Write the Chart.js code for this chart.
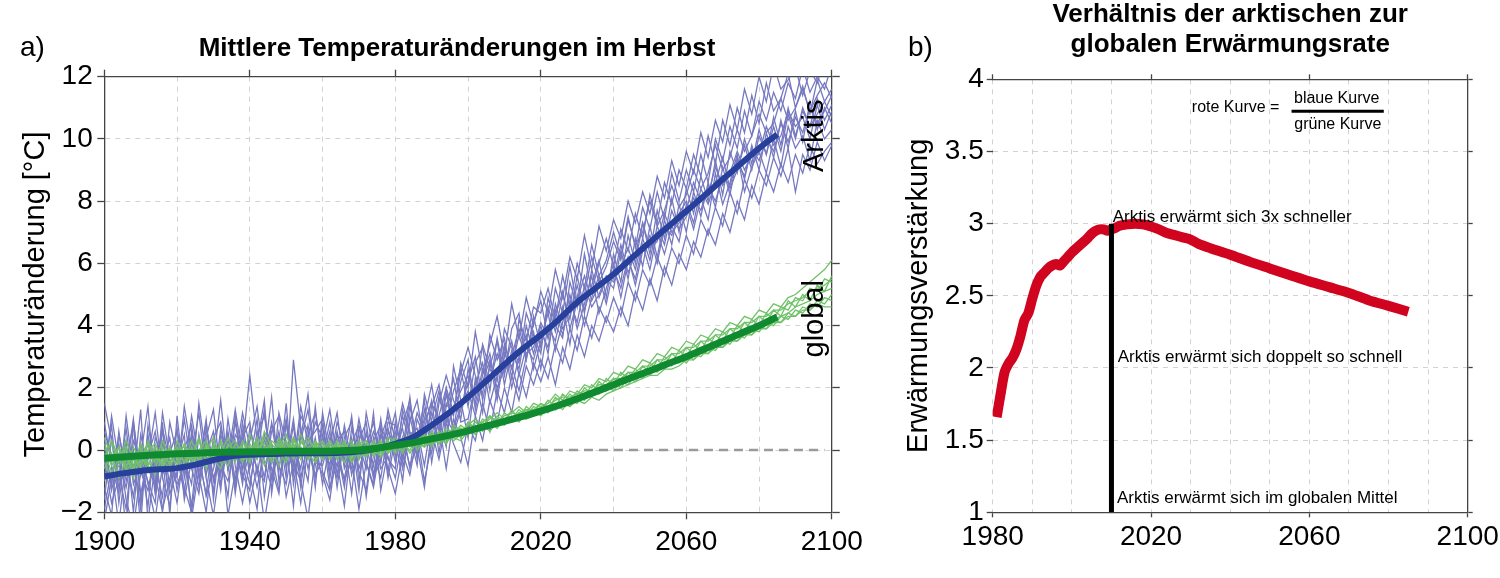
<!DOCTYPE html>
<html>
<head>
<meta charset="utf-8">
<script src="https://cdn.jsdelivr.net/npm/chart.js@4.4.1/dist/chart.umd.min.js"></script>
<style>
  html, body { margin: 0; padding: 0; background: #ffffff; }
  #wrap { position: relative; width: 1500px; height: 578px; overflow: hidden; background: #fff; }
  canvas { position: absolute; top: 0; }
  .panel-label { position: absolute; font-family: "Liberation Sans", Arial, Helvetica, sans-serif; font-size: 28px; line-height: 28px; color: #000; }
</style>
</head>
<body>
<div id="wrap">
  <canvas id="left" width="914" height="578" style="left:0px;width:914px;height:578px"></canvas>
  <canvas id="right" width="620" height="578" style="left:880px;width:620px;height:578px"></canvas>
  <div class="panel-label" style="left:20px;top:33px">a)</div>
  <div class="panel-label" style="left:908px;top:33px">b)</div>
</div>
<script>
// ---------------- DATA ----------------
// Panel a: years of the ensemble members (every 2 years) and of the smoothed means (every 5 years)
const memberYears = [];
for (let yr = 1900; yr <= 2100; yr += 2) memberYears.push(yr);
const meanYears = [];
for (let yr = 1900; yr <= 2085; yr += 5) meanYears.push(yr);

// Smoothed ensemble means (thick curves)
const arktisMean = [-0.85,-0.75,-0.67,-0.62,-0.58,-0.47,-0.32,-0.2,-0.15,-0.13,
  -0.11,-0.1,-0.1,-0.09,-0.05,0.05,0.2,0.42,0.8,1.22,
  1.7,2.22,2.75,3.25,3.7,4.2,4.75,5.2,5.65,6.17,
  6.68,7.18,7.68,8.18,8.7,9.2,9.7,10.15];
const globalMean = [-0.26,-0.22,-0.18,-0.15,-0.12,-0.1,-0.08,-0.06,-0.05,-0.05,
  -0.04,-0.04,-0.04,-0.02,0.0,0.06,0.15,0.24,0.36,0.48,
  0.62,0.77,0.92,1.08,1.25,1.44,1.65,1.87,2.1,2.33,
  2.55,2.78,3.0,3.25,3.5,3.75,4.0,4.28];

// Arctic ensemble members (thin purple lines)
const arktis01 = [1.5,0.3,-1.2,-0.4,0.8,-1.6,-0.2,0.6,-0.9,-1.8, 0.2,-0.7,1.1,-0.3,-1.4,0.4,0.9,-0.6,0.3,-1.1, 0.7,-0.2,1.3,-0.9,0.1,0.8,-0.5,1.4,0.2,-0.8, -0.3,0.6,-1.2,0.4,0.9,-0.6,0.2,-0.9,0.7,0.3, 1.2,-0.4,0.9,1.6,0.2,1.4,2.1,0.8,1.9,2.6, 1.4,2.8,3.3,1.9,3.6,2.4,3.9,4.4,2.9,4.1, 4.8,3.6,5.2,4.4,5.9,4.6,6.3,5.1,6.0,6.8, 5.9,7.1,6.4,7.6,6.8,8.2,7.3,8.6,7.9,9.0, 8.4,9.5,8.8,10.1,9.2,10.6,9.8,11.0,10.2,11.4, 10.5,11.8,10.9,11.3,12.1,11.0,11.7,10.8,11.9,11.2, 11.6];
const arktis02 = [-1.9,-0.6,-2.4,-0.3,-1.5,0.2,-1.1,-2.2,-0.5,0.4, -1.3,-0.2,-1.8,0.5,-0.9,-2.1,-0.4,0.3,-1.2,0.6, -0.8,-1.9,0.4,-0.6,-1.4,0.9,-0.3,-1.7,0.1,-0.9, 0.5,-1.2,-0.4,-1.8,0.3,-0.7,-1.3,0.4,-0.6,-0.2, -0.9,0.4,-0.5,0.1,-1.2,0.6,-0.3,0.9,0.2,-0.4, 0.8,0.3,1.5,0.6,1.9,1.2,2.4,1.6,2.7,2.1, 2.9,2.3,3.4,2.8,3.9,3.2,4.3,3.6,4.6,4.1, 4.9,4.3,5.4,4.8,5.8,5.3,6.2,5.6,6.5,6.0, 6.9,6.3,7.4,6.9,7.8,7.2,8.3,7.6,8.7,8.1, 9.0,8.5,9.4,8.8,9.7,8.3,9.5,9.0,9.9,9.3, 9.8];
const arktis03 = [0.4,-1.3,-0.2,-2.6,0.9,-0.8,0.3,-1.4,1.2,-0.3, -0.9,1.4,-0.1,-1.2,0.7,-0.4,1.6,-0.7,0.5,0.1, 2.4,0.3,-0.9,0.6,1.1,-0.6,0.8,-1.2,0.5,1.2, -0.2,0.9,-0.8,0.2,-1.4,0.7,0.1,0.9,-0.4,1.3, 0.3,1.5,0.6,-0.2,1.3,0.4,1.7,1.0,0.6,2.2, 2.9,1.3,2.4,3.1,1.8,3.4,2.6,3.7,2.9,4.3, 3.3,4.6,3.8,5.0,4.2,5.6,4.5,5.3,6.1,4.9, 6.3,5.4,6.9,6.0,7.3,6.3,7.7,6.8,8.1,7.0, 8.4,7.6,8.8,8.0,9.3,8.2,9.6,8.9,10.0,9.2, 10.3,9.5,10.7,9.8,11.0,10.1,10.9,10.4,11.3,10.6, 11.1];
const arktis04 = [-0.6,0.8,-1.7,0.1,-0.9,1.3,-2.3,-0.4,0.6,-1.2, 0.7,-1.6,-0.3,1.2,-0.8,0.2,-1.3,1.0,-0.5,-1.7, -0.4,1.0,-1.5,0.2,-0.7,1.5,-1.1,0.4,1.8,-0.5, 0.8,-0.9,0.5,-0.3,1.1,-1.0,0.6,-0.5,1.0,-0.7, 0.9,-0.2,1.4,0.3,1.6,-0.4,1.1,2.0,0.5,1.3, 2.2,3.0,1.6,2.7,3.5,2.1,3.2,2.6,4.0,3.1, 4.0,3.1,4.7,3.9,4.3,5.3,4.4,5.8,4.9,5.5, 5.2,6.4,5.5,6.8,5.9,7.2,6.2,7.4,6.6,7.9, 7.0,8.3,7.5,8.6,7.8,9.1,8.2,9.4,8.7,9.8, 9.0,10.2,9.4,10.6,9.7,10.9,9.9,11.2,10.3,11.0, 10.5];
const arktis05 = [-1.2,-2.1,0.6,-1.0,-0.1,-1.9,0.5,-0.8,-2.0,0.1, -0.4,0.5,-2.2,-0.6,0.9,-1.0,-0.2,-1.5,1.1,-0.8, -1.3,0.6,-0.2,1.7,-1.0,0.2,-1.8,0.7,-0.6,0.4, -1.1,0.2,1.2,-0.6,-0.1,0.5,-1.5,0.3,0.8,-0.9, 0.4,-1.0,1.1,0.0,0.7,1.6,-0.1,1.4,2.3,0.9, 1.0,2.1,2.8,1.5,2.4,3.3,2.0,3.0,3.7,2.6, 3.5,4.4,3.2,4.1,5.0,3.9,4.7,5.6,4.4,5.2, 6.0,4.9,6.1,5.5,6.6,5.8,7.0,6.3,7.2,6.7, 7.9,7.1,8.1,7.4,8.9,7.9,8.6,9.5,8.3,9.1, 9.6,8.9,10.0,9.1,10.4,9.7,10.1,9.3,10.6,10.0, 10.3];
const arktis06 = [0.9,-0.5,-1.4,1.1,-0.7,-0.2,1.4,-1.3,0.2,-0.6, -1.7,0.0,0.8,-0.9,0.4,1.3,-0.8,0.6,-1.0,0.9, -0.6,0.5,1.1,-0.4,0.6,-0.9,2.9,0.7,-0.3,0.9, 0.4,-0.5,0.9,0.1,-0.6,1.0,-0.2,0.6,0.0,0.7, -0.4,0.8,1.6,0.2,1.0,2.1,0.6,1.5,1.1,2.8, 2.0,3.8,2.5,3.4,4.3,3.0,4.7,3.6,4.9,4.0, 5.1,4.4,5.8,4.9,6.2,5.5,6.9,5.8,7.2,6.4, 7.4,6.8,8.0,7.3,8.3,7.6,8.8,8.1,9.3,8.5, 9.6,8.9,10.2,9.4,10.6,9.9,11.1,10.3,11.6,10.8, 12.0,11.2,12.4,11.6,11.9,12.3,11.4,12.2,11.8,12.5, 12.1];
const arktis07 = [-2.3,-0.9,0.2,-1.6,-2.5,-0.7,-1.3,0.0,-1.9,-0.9, 0.1,-1.2,-2.0,-0.1,-1.5,-0.6,0.3,-2.1,-0.7,-0.3, -1.7,-0.5,-2.3,-0.8,0.3,-1.5,-0.4,-1.0,-2.2,-0.2, -0.8,-1.6,0.1,-1.0,-0.3,-1.9,-0.4,-1.2,0.2,-0.6, -1.4,-0.1,-0.8,0.5,-1.0,0.2,0.9,-0.6,1.0,0.4, -0.5,1.1,0.3,1.6,0.9,2.0,1.2,2.5,1.7,2.8, 2.2,3.0,2.1,3.3,2.6,3.7,3.0,4.0,3.5,4.3, 3.8,4.6,4.0,5.1,4.5,5.5,4.8,5.9,5.3,6.3, 5.8,6.7,6.2,7.1,6.6,7.6,7.0,8.0,7.4,8.5, 7.9,8.9,8.3,9.2,8.6,9.5,8.9,9.8,9.2,9.6, 9.9];
const arktis08 = [0.1,-1.1,0.5,-0.6,1.0,-1.4,-0.3,1.2,-0.8,-0.1, 0.6,-0.3,-1.1,1.5,-0.2,-1.3,0.7,-0.4,0.9,-0.6, 0.3,1.4,-0.4,-1.2,1.2,0.2,-0.7,1.1,0.6,-1.2, 1.2,-0.2,-0.9,0.8,-0.4,0.3,0.9,-0.8,0.4,1.1, -0.2,1.1,0.2,1.2,0.6,-0.1,1.5,2.4,1.6,1.0, 2.6,1.7,3.4,2.6,2.2,3.9,3.3,2.8,4.4,3.7, 3.1,4.9,4.0,3.6,5.4,4.6,5.0,6.2,5.4,5.9, 6.7,6.1,7.4,6.6,7.0,8.0,7.2,7.7,8.5,7.8, 8.2,9.0,8.4,8.9,9.8,9.0,9.4,10.3,9.6,10.1, 10.8,10.2,10.5,11.3,10.6,11.0,11.6,10.9,11.4,11.8, 11.3];
const arktis09 = [-0.3,-1.7,-0.9,0.7,-1.1,-0.4,-1.8,0.4,-0.2,-1.4, -0.7,1.0,-0.6,-1.4,0.3,-0.9,-0.1,0.5,-1.4,0.4, 0.9,-0.8,0.5,-0.2,-1.3,0.5,0.2,-0.6,0.8,-0.4, -0.5,0.4,0.0,-1.2,0.7,-0.3,0.5,-0.2,-0.9,0.6, 0.1,0.7,-0.6,1.0,0.4,1.2,0.3,1.8,0.7,1.4, 1.9,1.1,2.2,2.9,2.0,2.6,3.5,2.4,3.3,2.9, 3.8,3.3,4.5,3.7,4.8,4.1,5.3,4.6,5.0,5.6, 5.4,5.9,6.5,5.8,6.8,6.1,7.2,6.6,7.7,7.1, 7.5,8.1,7.7,8.5,8.0,8.8,8.5,9.3,8.8,9.7, 9.3,10.0,9.6,10.5,9.9,10.7,10.2,11.0,10.5,10.9, 11.4];
const arktis10 = [-1.6,0.4,-0.8,-1.9,0.3,-0.3,-1.0,-1.7,0.7,-0.4, -1.1,-0.5,0.4,-0.8,-2.0,0.1,-0.5,-1.0,0.2,-0.9, -0.1,-1.2,0.0,0.8,-0.5,-1.1,0.4,-0.1,-1.0,1.4, -0.7,-1.3,0.3,0.6,-0.8,0.2,-0.6,1.2,-1.3,0.0, 0.6,-0.6,0.5,-0.5,1.8,0.9,0.4,2.0,1.2,2.5, 3.3,2.4,1.8,3.7,2.9,3.6,2.3,4.2,3.5,4.6, 4.4,5.2,4.2,5.6,4.6,6.0,5.2,6.6,5.6,6.1, 7.0,6.2,7.5,6.5,7.8,7.1,8.3,7.4,8.9,8.0, 9.0,8.3,9.5,8.6,10.0,9.3,10.4,9.7,10.9,10.1, 11.2,10.6,11.5,10.9,11.8,11.3,12.3,11.5,12.0,11.6, 12.4];
const arktis11 = [0.6,-0.2,-0.9,0.3,-2.0,0.5,-0.6,-1.1,0.9,-2.1, 1.1,-0.9,0.2,-0.5,1.0,-1.6,0.5,-0.3,1.3,-0.2, -1.1,0.2,1.6,-1.4,0.4,-0.4,1.0,-0.9,0.3,0.6, 1.0,-0.7,0.6,-0.5,0.4,-1.3,1.2,0.0,-0.4,0.9, 0.8,0.0,1.7,-0.3,0.9,1.5,1.0,0.1,2.7,1.6, 0.4,2.3,1.2,2.8,1.6,3.1,2.7,1.9,3.0,3.8, 2.6,4.0,3.5,4.6,3.4,5.0,4.0,4.9,5.6,4.7, 5.8,5.2,6.2,5.3,6.4,6.9,6.0,7.2,6.9,7.6, 8.0,7.3,8.4,7.9,8.6,9.4,8.4,9.0,9.8,9.0, 10.1,9.5,10.4,9.6,10.8,10.0,11.0,10.4,10.8,11.2, 10.7];
const arktis12 = [-1.0,1.1,-0.4,-1.2,0.0,-2.4,0.8,-0.5,-1.5,0.9, -0.2,-1.4,0.6,-0.7,-0.1,0.6,-1.1,0.1,-0.3,1.2, 0.1,-0.6,-1.0,0.9,-0.2,1.0,-0.8,0.3,1.3,-0.4, 0.2,1.3,-0.3,-0.9,0.2,0.8,-0.4,-1.1,0.5,-0.3, -0.6,1.3,0.5,0.7,-0.5,1.0,1.9,0.5,1.4,1.9, 2.4,1.5,2.6,2.2,3.1,2.5,3.0,3.9,3.1,3.3, 4.1,3.6,4.3,5.1,3.9,4.8,5.6,4.8,5.3,5.5, 5.5,6.6,5.7,6.3,7.3,6.5,6.7,7.6,7.0,7.3, 7.7,8.6,8.0,8.2,9.1,8.5,8.9,9.6,9.0,9.5, 9.5,10.4,9.8,10.1,10.9,10.4,10.7,10.0,11.1,10.3, 10.9];
const arktisMembers = [arktis01, arktis02, arktis03, arktis04, arktis05, arktis06, arktis07, arktis08, arktis09, arktis10, arktis11, arktis12];

// Global ensemble members (thin green lines)
const global01 = [0.2,-0.5,-0.1,-0.6,0.1,-0.4,0.3,-0.2,-0.5,0.1, -0.3,0.2,-0.2,0.3,-0.4,0.1,-0.1,0.4,-0.2,0.2, 0.1,-0.3,0.4,-0.1,0.2,-0.3,0.3,0.0,-0.2,0.2, -0.2,0.1,-0.3,0.2,-0.1,0.2,-0.2,0.3,0.0,0.2, 0.0,0.4,0.1,0.5,0.2,0.6,0.3,0.7,0.5,0.8, 0.6,0.9,0.7,1.1,0.8,1.2,1.0,1.3,1.1,1.4, 1.3,1.6,1.4,1.8,1.6,1.9,1.7,2.1,1.9,2.3, 2.1,2.5,2.3,2.6,2.4,2.8,2.6,3.0,2.8,3.2, 3.0,3.4,3.2,3.6,3.4,3.8,3.6,4.0,3.8,4.2, 4.0,4.4,4.2,4.6,4.5,4.9,4.8,5.2,5.1,5.5, 5.4];
const global02 = [-0.6,-0.1,-0.9,-0.3,-0.7,0.0,-0.5,-0.8,-0.2,-0.4, 0.1,-0.4,-0.1,-0.5,0.2,-0.3,-0.6,0.0,-0.3,-0.1, -0.4,0.2,-0.2,0.0,-0.5,0.1,-0.3,0.3,-0.1,-0.4, 0.1,-0.3,0.0,-0.4,0.2,-0.2,0.1,-0.1,0.3,-0.1, 0.3,-0.1,0.4,0.1,0.5,0.2,0.6,0.3,0.4,0.7, 0.5,0.8,0.6,0.9,0.7,1.0,0.9,1.2,1.0,1.3, 1.1,1.4,1.3,1.6,1.4,1.7,1.6,1.9,1.8,2.1, 1.9,2.2,2.1,2.4,2.3,2.6,2.5,2.8,2.7,3.0, 2.8,3.1,3.0,3.3,3.2,3.5,3.4,3.7,3.6,3.9, 3.8,4.1,4.0,4.3,4.2,4.5,4.4,4.7,4.6,4.9, 4.8];
const global03 = [-0.3,0.3,-0.2,0.0,-0.5,0.2,-0.1,-0.4,0.3,-0.2, -0.1,-0.4,0.3,-0.2,0.0,0.4,-0.3,0.1,0.3,-0.2, 0.5,0.0,-0.2,0.3,0.1,0.5,-0.1,0.2,0.4,0.0, 0.2,-0.1,0.3,0.0,-0.2,0.1,0.3,-0.2,0.2,0.0, 0.2,0.3,-0.1,0.3,0.5,0.1,0.5,0.6,0.3,0.5, 0.9,0.6,1.0,0.8,1.1,0.9,1.3,1.0,1.4,1.2, 1.5,1.3,1.7,1.5,1.8,1.6,2.0,1.8,2.2,2.0, 2.3,2.1,2.5,2.3,2.7,2.5,2.9,2.7,3.1,2.9, 3.3,3.1,3.5,3.3,3.7,3.5,3.9,3.7,4.1,3.9, 4.3,4.1,4.5,4.3,4.8,4.6,5.0,4.8,5.3,5.1, 5.6];
const global04 = [-0.1,-0.7,-0.3,0.1,-0.9,-0.2,-0.5,0.1,-0.6,-0.1, -0.5,0.0,-0.4,-0.1,-0.6,0.2,-0.2,-0.5,0.1,-0.3, -0.2,0.3,-0.5,0.2,-0.1,-0.4,0.2,-0.2,0.1,-0.3, -0.1,0.2,-0.2,0.1,-0.4,0.0,-0.1,0.2,-0.2,0.3, -0.1,0.2,0.0,0.4,0.1,0.3,0.5,0.2,0.6,0.4, 0.7,0.5,0.8,0.6,0.9,0.8,1.1,0.9,1.2,1.1, 1.4,1.2,1.5,1.3,1.6,1.5,1.8,1.7,2.0,1.9, 2.2,2.0,2.3,2.2,2.5,2.4,2.7,2.6,2.9,2.8, 3.1,2.9,3.2,3.1,3.4,3.3,3.6,3.5,3.8,3.7, 4.0,3.9,4.2,4.1,4.4,4.3,4.6,4.5,4.8,4.7, 5.0];
const global05 = [0.4,-0.2,0.1,-0.5,-0.1,-0.6,0.2,-0.3,0.0,-0.5, 0.3,-0.2,-0.5,0.0,0.3,-0.3,0.2,-0.1,-0.4,0.3, -0.1,0.4,0.1,-0.3,0.4,0.0,0.1,-0.3,0.3,0.1, 0.3,-0.2,0.2,0.1,0.3,-0.3,0.0,0.1,-0.1,0.4, 0.3,0.0,0.3,0.2,0.1,0.5,0.4,0.2,0.8,0.6, 0.8,1.0,0.8,1.0,1.2,1.0,1.2,1.4,1.2,1.5, 1.4,1.5,1.8,1.6,1.9,1.8,2.1,2.0,2.3,2.2, 2.5,2.4,2.7,2.6,2.9,2.8,3.1,3.0,3.3,3.2, 3.5,3.4,3.7,3.6,3.9,3.8,4.1,4.0,4.3,4.2, 4.5,4.4,4.7,4.6,4.9,5.0,5.2,5.4,5.6,5.8, 6.1];
const global06 = [-0.4,-0.9,-0.5,-0.2,-0.6,-0.1,-0.7,-0.2,-0.4,0.0, -0.2,-0.6,0.1,-0.3,-0.1,-0.4,0.3,-0.2,0.0,-0.4, 0.2,-0.2,0.1,-0.4,0.0,0.3,-0.2,0.1,-0.3,0.2, -0.3,0.0,0.2,-0.2,0.0,0.3,-0.2,0.0,0.3,-0.1, 0.1,0.3,0.5,0.0,0.3,0.4,0.2,0.5,0.4,0.3, 0.6,0.7,0.9,0.7,0.8,1.0,0.9,1.1,1.0,1.1, 1.2,1.4,1.3,1.5,1.4,1.6,1.5,1.7,1.6,1.8, 1.9,2.0,2.1,2.2,2.3,2.4,2.4,2.6,2.6,2.7, 2.9,2.9,3.1,3.1,3.3,3.3,3.5,3.5,3.7,3.7, 3.9,3.9,4.1,4.1,4.3,4.3,4.5,4.5,4.7,4.6, 4.6];
const global07 = [0.0,0.2,-0.4,0.3,-0.3,-0.5,0.0,0.2,-0.3,-0.6, 0.0,0.1,-0.3,0.4,-0.3,0.0,-0.4,0.2,-0.1,0.1, -0.3,0.1,0.2,-0.2,0.3,-0.1,0.4,-0.1,0.0,0.3, 0.0,0.3,-0.1,0.3,-0.3,0.2,0.3,-0.1,0.1,0.2, 0.4,0.1,0.2,0.5,0.3,0.6,0.2,0.5,0.7,0.4, 0.9,0.7,0.9,1.1,0.9,1.1,1.2,1.1,1.3,1.3, 1.5,1.4,1.6,1.7,1.7,1.8,1.9,1.9,2.1,2.1, 2.3,2.3,2.5,2.5,2.7,2.7,2.9,2.9,3.1,3.1, 3.3,3.3,3.5,3.5,3.7,3.7,3.9,3.9,4.1,4.1, 4.3,4.3,4.5,4.5,4.7,4.8,4.9,5.1,5.2,5.3, 5.5];
const global08 = [-0.2,-0.4,0.1,-0.7,-0.3,0.1,-0.4,-0.6,0.1,-0.3, -0.4,0.2,-0.2,-0.3,0.1,-0.2,0.0,-0.3,0.2,0.0, 0.0,-0.3,0.6,0.1,-0.2,0.2,0.0,0.5,-0.2,0.1, 0.0,-0.2,0.1,-0.1,0.1,-0.1,0.2,0.0,-0.2,0.1, 0.2,0.1,0.3,0.3,0.4,0.2,0.4,0.5,0.6,0.7, 0.5,0.7,0.7,0.8,1.0,0.9,1.0,1.2,1.3,1.2, 1.3,1.4,1.5,1.4,1.6,1.7,1.8,1.8,1.9,2.0, 2.1,2.2,2.2,2.4,2.5,2.5,2.6,2.8,2.8,2.9, 3.1,3.1,3.3,3.2,3.4,3.5,3.5,3.7,3.8,3.8, 4.0,4.1,4.2,4.3,4.4,4.6,4.7,4.8,5.0,5.1, 5.2];
const globalMembers = [global01, global02, global03, global04, global05, global06, global07, global08];

// Grey dashed zero reference line
const zeroLineYears = [2003, 2098];
const zeroLineValues = [0, 0];

// Panel b: ratio of arctic to global warming (red curve)
const ratioYears = [1981,1982,1983,1984,1985,1986,1987,1988,1989,1990,
  1991,1992,1993,1994,1995,1996,1997,1998,1999,2000,
  2002,2004,2005,2006,2007,2008,2009,2010,2011,2012,
  2014,2016,2018,2020,2022,2024,2026,2028,2030,2032,
  2035,2040,2045,2050,2055,2060,2065,2070,2075,2080,2085];
const ratioValues = [1.66,1.82,1.97,2.03,2.07,2.13,2.22,2.33,2.38,2.48,
  2.57,2.63,2.66,2.69,2.71,2.72,2.71,2.74,2.77,2.8,
  2.85,2.9,2.93,2.95,2.96,2.96,2.95,2.96,2.97,2.985,
  2.995,3.0,2.995,2.98,2.96,2.935,2.92,2.905,2.89,2.86,
  2.83,2.785,2.735,2.69,2.645,2.6,2.56,2.52,2.47,2.43,2.39];
// Black vertical marker (present day)
const markerYears = [2010, 2010];
const markerValues = [1, 3];

// Axis ranges
const leftXRange = [1900, 2100];
const leftYRange = [-2, 12];
const rightXRange = [1980, 2100];
const rightYRange = [1, 4];

// ---------------- RENDERING ----------------
const FONT = '"Liberation Sans", Arial, Helvetica, sans-serif';
Chart.defaults.font.family = FONT;
Chart.defaults.color = '#000';

const pts = (xs, ys) => xs.map((x, i) => ({ x: x, y: ys[i] }));
const AXIS = '#444';
const GRID = '#d2d2d2';
const TRANSP = 'rgba(0,0,0,0)';

const notesPlugin = {
  id: 'notes',
  afterDraw(chart, args, opts) {
    const ctx = chart.ctx;
    const xs = chart.scales.x, ys = chart.scales.y;
    (opts.rules || []).forEach(r => {
      ctx.save();
      ctx.strokeStyle = r.color || '#000';
      ctx.lineWidth = r.width || 2;
      ctx.beginPath();
      ctx.moveTo(xs.getPixelForValue(r.x1), ys.getPixelForValue(r.y));
      ctx.lineTo(xs.getPixelForValue(r.x2), ys.getPixelForValue(r.y));
      ctx.stroke();
      ctx.restore();
    });
    (opts.items || []).forEach(it => {
      ctx.save();
      ctx.font = it.font;
      ctx.fillStyle = '#000';
      ctx.textAlign = it.align || 'left';
      ctx.textBaseline = it.baseline || 'alphabetic';
      ctx.translate(xs.getPixelForValue(it.x), ys.getPixelForValue(it.y));
      if (it.rotate) ctx.rotate(it.rotate);
      ctx.fillText(it.text, 0, 0);
      ctx.restore();
    });
  }
};

// ---- Panel a ----
const leftDatasets = [];
arktisMembers.forEach((m, i) => leftDatasets.push({
  label: 'Arktis Lauf ' + (i + 1), data: pts(memberYears, m),
  borderColor: 'rgb(118,121,192)', borderWidth: 1.3, pointRadius: 0, tension: 0, order: 5
}));
globalMembers.forEach((m, i) => leftDatasets.push({
  label: 'global Lauf ' + (i + 1), data: pts(memberYears, m),
  borderColor: 'rgb(112,194,104)', borderWidth: 1.3, pointRadius: 0, tension: 0, order: 4
}));
leftDatasets.push({
  label: 'Null', data: pts(zeroLineYears, zeroLineValues),
  borderColor: '#9a9a9a', borderWidth: 2.6, borderDash: [9, 6], pointRadius: 0, order: 3
});
leftDatasets.push({
  label: 'Arktis Mittel', data: pts(meanYears, arktisMean),
  borderColor: '#27409b', borderWidth: 6, pointRadius: 0, cubicInterpolationMode: 'monotone', order: 2
});
leftDatasets.push({
  label: 'global Mittel', data: pts(meanYears, globalMean),
  borderColor: '#0f8a31', borderWidth: 7, pointRadius: 0, cubicInterpolationMode: 'monotone', order: 1
});

const leftMajor = v => (v - leftXRange[0]) % 40 === 0;

new Chart(document.getElementById('left'), {
  type: 'line',
  data: { datasets: leftDatasets },
  plugins: [notesPlugin],
  options: {
    responsive: false, animation: false, devicePixelRatio: 1, events: [],
    layout: { padding: 0 },
    plugins: {
      legend: { display: false }, tooltip: { enabled: false },
      title: {
        display: true, text: 'Mittlere Temperaturänderungen im Herbst', color: '#000',
        font: { size: 26, weight: 'bold', lineHeight: 1.2 }, padding: { top: 33.6, bottom: 0 }
      },
      notes: {
        items: [
          { text: 'Arktis', x: 2095.4, y: 10.1, font: '29px ' + FONT, align: 'center', baseline: 'middle', rotate: -Math.PI / 2 },
          { text: 'global', x: 2095.4, y: 4.22, font: '29px ' + FONT, align: 'center', baseline: 'middle', rotate: -Math.PI / 2 }
        ]
      }
    },
    scales: {
      x: {
        type: 'linear', position: 'bottom', min: leftXRange[0], max: leftXRange[1],
        ticks: { stepSize: 20, autoSkip: false, maxRotation: 0, minRotation: 0, padding: 6.4, color: '#000', font: { size: 28 },
          callback: v => leftMajor(v) ? String(v) : '' },
        grid: { color: GRID, lineWidth: 1, tickLength: 7, tickWidth: 1.3, tickColor: c => leftMajor(c.tick.value) ? AXIS : TRANSP },
        border: { display: true, color: AXIS, width: 1.3, dash: [5, 5] },
        afterFit: s => { s.height = 65.7; s.paddingLeft = 0; s.paddingRight = 0; }
      },
      x2: {
        type: 'linear', position: 'top', min: leftXRange[0], max: leftXRange[1],
        ticks: { display: false, stepSize: 20, autoSkip: false },
        grid: { drawOnChartArea: false, tickLength: 7, tickWidth: 1.3, tickColor: c => leftMajor(c.tick.value) ? AXIS : TRANSP },
        border: { display: true, color: AXIS, width: 1.3 },
        afterFit: s => { s.height = 11.9; s.paddingLeft = 0; s.paddingRight = 0; }
      },
      y: {
        type: 'linear', position: 'left', min: leftYRange[0], max: leftYRange[1],
        ticks: { stepSize: 2, padding: 4.6, color: '#000', font: { size: 28 },
          callback: v => v < 0 ? '\u2212' + Math.abs(v) : String(v) },
        grid: { color: GRID, lineWidth: 1, tickLength: 7, tickWidth: 1.3, tickColor: AXIS },
        border: { display: true, color: AXIS, width: 1.3, dash: [5, 5] },
        title: { display: true, text: 'Temperaturänderung [°C]', color: '#000', font: { size: 29, lineHeight: 1.2 }, padding: { top: 18.3, bottom: 0 } },
        afterFit: s => { s.width = 104.3; s.paddingTop = 0; s.paddingBottom = 0; }
      },
      y2: {
        type: 'linear', position: 'right', min: leftYRange[0], max: leftYRange[1],
        ticks: { display: false, stepSize: 2 },
        grid: { drawOnChartArea: false, tickLength: 8, tickWidth: 1.3, tickColor: AXIS },
        border: { display: true, color: AXIS, width: 1.3 },
        afterFit: s => { s.width = 82.2; s.paddingTop = 0; s.paddingBottom = 0; }
      }
    }
  }
});

// ---- Panel b ----
const rightMajor = v => (v - rightXRange[0]) % 40 === 0;

new Chart(document.getElementById('right'), {
  type: 'line',
  data: {
    datasets: [
      { label: 'Heute', data: pts(markerYears, markerValues), borderColor: '#000', borderWidth: 5, pointRadius: 0, order: 0 },
      { label: 'Verhältnis', data: pts(ratioYears, ratioValues), borderColor: 'rgb(208,4,30)', borderWidth: 10,
        pointRadius: 0, tension: 0.25, borderJoinStyle: 'round', order: 1 }
    ]
  },
  plugins: [notesPlugin],
  options: {
    responsive: false, animation: false, devicePixelRatio: 1, events: [],
    layout: { padding: 0 },
    plugins: {
      legend: { display: false }, tooltip: { enabled: false },
      title: {
        display: true, fullSize: false,
        text: ['Verhältnis der arktischen zur', 'globalen Erwärmungsrate'], color: '#000',
        font: { size: 26, weight: 'bold', lineHeight: 1.154 }, padding: { top: 0, bottom: 0 }
      },
      notes: {
        rules: [ { x1: 2055.5, x2: 2078.8, y: 3.779, width: 3, color: '#000' } ],
        items: [
          { text: 'rote Kurve =', x: 2030.3, y: 3.774, font: '16px ' + FONT },
          { text: 'blaue Kurve', x: 2066.9, y: 3.837, font: '16px ' + FONT, align: 'center' },
          { text: 'grüne Kurve', x: 2067.2, y: 3.654, font: '16px ' + FONT, align: 'center' },
          { text: 'Arktis erwärmt sich 3x schneller', x: 2010.3, y: 3.012, font: '17px ' + FONT },
          { text: 'Arktis erwärmt sich doppelt so schnell', x: 2011.6, y: 2.041, font: '17px ' + FONT },
          { text: 'Arktis erwärmt sich im globalen Mittel', x: 2011.4, y: 1.064, font: '17px ' + FONT }
        ]
      }
    },
    scales: {
      x: {
        type: 'linear', position: 'bottom', min: rightXRange[0], max: rightXRange[1],
        ticks: { stepSize: 10, autoSkip: false, maxRotation: 0, minRotation: 0, padding: 3.4, color: '#000', font: { size: 28 },
          callback: v => rightMajor(v) ? String(v) : '' },
        grid: { color: GRID, lineWidth: 1, tickLength: 5, tickWidth: 1.3, tickColor: c => rightMajor(c.tick.value) ? AXIS : TRANSP },
        border: { display: true, color: AXIS, width: 1.3, dash: [5, 5] },
        afterFit: s => { s.height = 65.7; s.paddingLeft = 0; s.paddingRight = 0; }
      },
      x2: {
        type: 'linear', position: 'top', min: rightXRange[0], max: rightXRange[1],
        ticks: { display: false, stepSize: 10, autoSkip: false },
        grid: { drawOnChartArea: false, tickLength: 5, tickWidth: 1.3, tickColor: c => rightMajor(c.tick.value) ? AXIS : TRANSP },
        border: { display: true, color: AXIS, width: 1.3 },
        afterFit: s => { s.height = 19.3; s.paddingLeft = 0; s.paddingRight = 0; }
      },
      y: {
        type: 'linear', position: 'left', min: rightYRange[0], max: rightYRange[1],
        ticks: { stepSize: 0.5, padding: 3, color: '#000', font: { size: 28 }, callback: v => String(v) },
        grid: { color: GRID, lineWidth: 1, tickLength: 6, tickWidth: 1.3, tickColor: AXIS },
        border: { display: false, dash: [5, 5] },
        title: { display: true, text: 'Erwärmungsverstärkung', color: '#000', font: { size: 29, lineHeight: 1.2 }, padding: { top: 21.5, bottom: 0 } },
        afterFit: s => { s.width = 112.7; s.paddingTop = 0; s.paddingBottom = 0; }
      },
      y2: {
        type: 'linear', position: 'right', min: rightYRange[0], max: rightYRange[1],
        ticks: { display: false, stepSize: 0.5 },
        grid: { drawOnChartArea: false, tickLength: 5, tickWidth: 1.3, tickColor: AXIS },
        border: { display: true, color: AXIS, width: 1.3 },
        afterFit: s => { s.width = 32.3; s.paddingTop = 0; s.paddingBottom = 0; }
      }
    }
  }
});
</script>
</body>
</html>
